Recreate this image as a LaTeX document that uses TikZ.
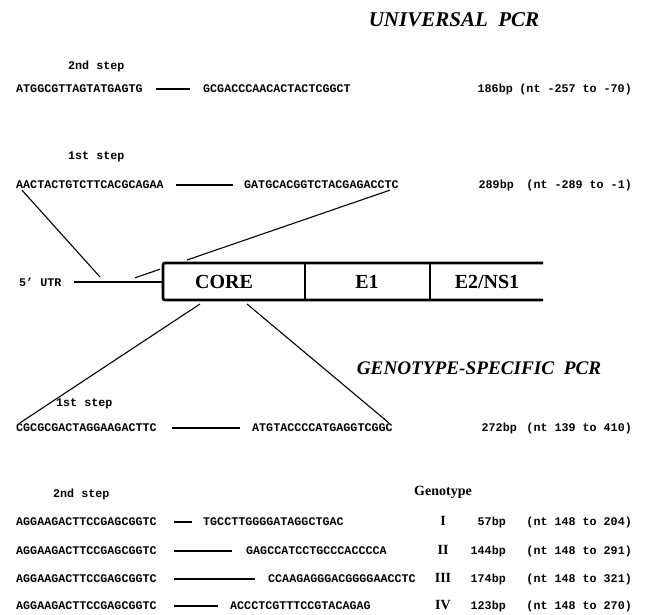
\documentclass[tikz,border=0pt]{standalone}
\usepackage{fontspec}
\setmainfont{Liberation Serif}
\setmonofont{Liberation Mono}
\tikzset{
  seq/.style={font=\ttfamily\bfseries\fontsize{11.7}{12}\selectfont, inner sep=0pt, anchor=west},
  rcol/.style={font=\ttfamily\bfseries\fontsize{11.7}{12}\selectfont, inner sep=0pt, anchor=east},
  ttl/.style={font=\bfseries\itshape\fontsize{20}{22}\selectfont, inner sep=0pt},
  gene/.style={font=\bfseries\fontsize{20}{22}\selectfont, inner sep=0pt},
  roman/.style={font=\bfseries\fontsize{14}{16}\selectfont, inner sep=0pt},
  bar/.style={line width=2.6pt},
  boxline/.style={line width=2.8pt},
  divline/.style={line width=1.4pt},
  conn/.style={line width=1.1pt},
}
\begin{document}
\begin{tikzpicture}[x=1pt,y=-1pt]
\useasboundingbox (0,0) rectangle (645,615);

% ---------- Universal PCR ----------
\node[ttl, font=\bfseries\itshape\fontsize{21}{23}\selectfont] (tu) at (454,20) {UNIVERSAL\ \ PCR};

\node[seq] (s2u) at (68,66) {2nd step};
\node[seq] (p1f) at (16,89) {ATGGCGTTAGTATGAGTG};
\node[seq] (p1r) at (203,89) {GCGACCCAACACTACTCGGCT};
\draw[bar] ([xshift=13pt]p1f.east) -- ([xshift=-13pt]p1r.west);
\node[rcol] (b1) at (513,89) {186bp};
\node[rcol] (n1) at (632,89) {(nt -257 to -70)};

\node[seq] (s1u) at (68,157) {1st step};
\node[seq] (p2f) at (16,185) {AACTACTGTCTTCACGCAGAA};
\node[seq] (p2r) at (244,185) {GATGCACGGTCTACGAGACCTC};
\draw[bar] ([xshift=12pt]p2f.east) -- ([xshift=-11pt]p2r.west);
\node[rcol] (b2) at (514,185) {289bp};
\node[rcol] (n2) at (632,185) {(nt -289 to -1)};

% ---------- genome map ----------
\node[seq] (utr) at (19,282) {5’ UTR};
\coordinate (bTL) at (163,263);
\coordinate (bBL) at (163,300);
\coordinate (bTR) at (543,263);
\coordinate (bBR) at (543,300);
\coordinate (utrE) at (163,282);
\draw[line width=2.2pt] ([xshift=12pt]utr.east) -- (utrE);
\draw[boxline, rounded corners=2pt] (bTR) -- (bTL) -- (bBL) -- (bBR);
\coordinate (d1t) at (305,263); \coordinate (d1b) at (305,300);
\coordinate (d2t) at (430,263); \coordinate (d2b) at (430,300);
\draw[divline] (d1t) -- (d1b);
\draw[divline] (d2t) -- (d2b);
\node[gene] (core) at (224,282) {CORE};
\node[gene] (e1) at (367,282) {E1};
\node[gene] (e2) at (487,282) {E2/NS1};

% connectors for universal primers
\coordinate (a1) at (100,277);
\draw[conn] ([xshift=6pt,yshift=-1pt]p2f.south west) -- (a1);
\coordinate (bb1) at (187,260);
\coordinate (bb2) at (160,269.2);
\coordinate (bb3) at (135,277.8);
\draw[conn] ([xshift=-9pt,yshift=-1pt]p2r.south east) -- (bb1);
\draw[conn] (bb2) -- (bb3);

% connectors for genotype-specific primers
\coordinate (c1) at (200,304);
\coordinate (c2) at (247,304);

% ---------- Genotype-specific PCR ----------
\node[ttl, font=\bfseries\itshape\fontsize{19.2}{21}\selectfont] (tg) at (479,368) {GENOTYPE-SPECIFIC\ \ PCR};

\node[seq] (s1l) at (56,404) {1st step};
\node[seq] (p3f) at (16,428) {CGCGCGACTAGGAAGACTTC};
\node[seq] (p3r) at (252,428) {ATGTACCCCATGAGGTCGGC};
\draw[bar] ([xshift=15pt]p3f.east) -- ([xshift=-12pt]p3r.west);
\node[rcol] (b3) at (517,428) {272bp};
\node[rcol] (n3) at (632,428) {(nt 139 to 410)};
\draw[conn] (c1) -- ([xshift=4pt,yshift=1pt]p3f.north west);
\draw[conn] (c2) -- ([xshift=-4pt,yshift=1pt]p3r.north east);

\node[seq] (s2l) at (53,494) {2nd step};
\node[font=\bfseries\fontsize{14}{16}\selectfont, inner sep=0pt] (gt) at (443,492) {Genotype};

% row I
\node[seq] (g1f) at (16,522) {AGGAAGACTTCCGAGCGGTC};
\node[seq] (g1r) at (203,522) {TGCCTTGGGGATAGGCTGAC};
\draw[bar] ([xshift=17pt]g1f.east) -- ([xshift=-11pt]g1r.west);
\node[roman] (r1) at (443,521) {I};
\node[rcol] (gb1) at (506,522) {57bp};
\node[rcol] (gn1) at (632,522) {(nt 148 to 204)};

% row II
\node[seq] (g2f) at (16,551) {AGGAAGACTTCCGAGCGGTC};
\node[seq] (g2r) at (246,551) {GAGCCATCCTGCCCACCCCA};
\draw[bar] ([xshift=17pt]g2f.east) -- ([xshift=-14pt]g2r.west);
\node[roman] (r2) at (443,550) {II};
\node[rcol] (gb2) at (506,551) {144bp};
\node[rcol] (gn2) at (632,551) {(nt 148 to 291)};

% row III
\node[seq] (g3f) at (16,579) {AGGAAGACTTCCGAGCGGTC};
\node[seq] (g3r) at (268,579) {CCAAGAGGGACGGGGAACCTC};
\draw[bar] ([xshift=17pt]g3f.east) -- ([xshift=-13pt]g3r.west);
\node[roman] (r3) at (443,578) {III};
\node[rcol] (gb3) at (506,579) {174bp};
\node[rcol] (gn3) at (632,579) {(nt 148 to 321)};

% row IV
\node[seq] (g4f) at (16,606) {AGGAAGACTTCCGAGCGGTC};
\node[seq] (g4r) at (230,606) {ACCCTCGTTTCCGTACAGAG};
\draw[bar] ([xshift=17pt]g4f.east) -- ([xshift=-12pt]g4r.west);
\node[roman] (r4) at (443,605) {IV};
\node[rcol] (gb4) at (506,606) {123bp};
\node[rcol] (gn4) at (632,606) {(nt 148 to 270)};
\end{tikzpicture}
\end{document}
